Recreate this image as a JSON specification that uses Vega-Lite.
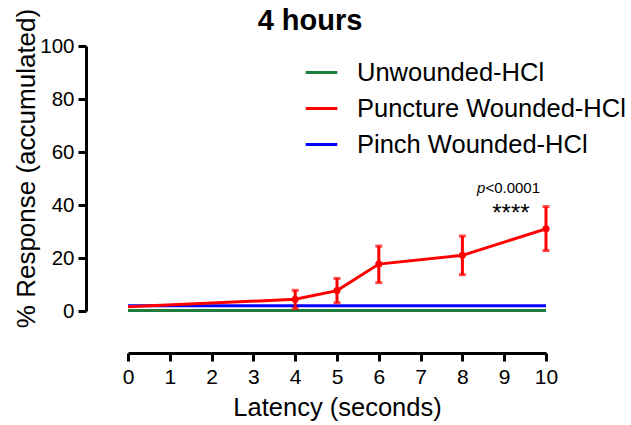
{
  "$schema": "https://vega.github.io/schema/vega-lite/v6.json",
  "autosize": {"type": "none"},
  "width": 418,
  "height": 265,
  "padding": {"left": 128, "top": 46, "right": 85, "bottom": 114},
  "background": "white",
  "title": {"text": "4 hours", "fontSize": 29, "fontWeight": "bold", "font": "Liberation Sans", "color": "black", "anchor": "middle", "frame": "group", "dx": -27, "dy": 51, "offset": 0, "baseline": "alphabetic"},
  "config": {
    "view": {"stroke": null},
    "font": "Liberation Sans",
    "axis": {"grid": false, "domainColor": "black", "domainWidth": 3, "tickColor": "black", "tickWidth": 3, "labelColor": "black", "titleColor": "black", "labelFont": "Liberation Sans", "titleFont": "Liberation Sans", "titleFontWeight": "normal"}
  },
  "datasets": {
    "lines": [
      {"group": "Unwounded-HCl", "latency": 0, "response": 0.2},
      {"group": "Unwounded-HCl", "latency": 10, "response": 0.2},
      {"group": "Pinch Wounded-HCl", "latency": 0, "response": 2},
      {"group": "Pinch Wounded-HCl", "latency": 10, "response": 2},
      {"group": "Puncture Wounded-HCl", "latency": 0, "response": 1.6},
      {"group": "Puncture Wounded-HCl", "latency": 4, "response": 4.4},
      {"group": "Puncture Wounded-HCl", "latency": 5, "response": 7.7},
      {"group": "Puncture Wounded-HCl", "latency": 6, "response": 17.7},
      {"group": "Puncture Wounded-HCl", "latency": 8, "response": 21.0},
      {"group": "Puncture Wounded-HCl", "latency": 10, "response": 31.0}
    ],
    "errs": [
      {"group": "Puncture Wounded-HCl", "latency": 4, "response": 4.4, "lo": 0.9, "hi": 7.8},
      {"group": "Puncture Wounded-HCl", "latency": 5, "response": 7.7, "lo": 3.1, "hi": 12.3},
      {"group": "Puncture Wounded-HCl", "latency": 6, "response": 17.7, "lo": 10.7, "hi": 24.5},
      {"group": "Puncture Wounded-HCl", "latency": 8, "response": 21.0, "lo": 13.7, "hi": 28.3},
      {"group": "Puncture Wounded-HCl", "latency": 10, "response": 31.0, "lo": 22.8, "hi": 39.4}
    ],
    "notes": [
      {"latency": 9.16, "response": 36.6, "label": "****"}
    ],
    "pnote": [
      {"latency": 8.55, "response": 46.4, "label": "p", "rest": "<0.0001"}
    ]
  },
  "layer": [
    {
      "data": {"name": "lines"},
      "mark": {"type": "line", "strokeWidth": 3, "clip": false},
      "encoding": {
        "x": {"field": "latency", "type": "quantitative", "scale": {"domain": [0, 10], "nice": false, "zero": false},
          "axis": {"values": [0,1,2,3,4,5,6,7,8,9,10], "offset": 42, "tickSize": 8, "labelFontSize": 21, "labelPadding": 5, "title": "Latency (seconds)", "titleFontSize": 25.5, "titlePadding": 8, "labelFlush": false}},
        "y": {"field": "response", "type": "quantitative", "scale": {"domain": [0, 100], "nice": false},
          "axis": {"values": [0,20,40,60,80,100], "offset": 42, "tickSize": 8, "labelFontSize": 20.5, "labelPadding": 4, "title": "% Response (accumulated)", "titleFontSize": 26, "titlePadding": 0, "titleY": 122, "labelFlush": false}},
        "color": {"field": "group", "type": "nominal",
          "scale": {"domain": ["Unwounded-HCl", "Puncture Wounded-HCl", "Pinch Wounded-HCl"], "range": ["#1e7d3c", "#ff0000", "#0000ff"]},
          "legend": {"title": null, "orient": "none", "legendX": 176, "legendY": 9, "symbolType": "stroke", "symbolStrokeWidth": 3, "symbolSize": 1000, "labelFontSize": 25.5, "labelColor": "black", "labelFont": "Liberation Sans", "rowPadding": 5, "labelOffset": 18, "labelLimit": 400}},
        "order": {"field": "group"}
      }
    },
    {
      "data": {"name": "errs"},
      "mark": {"type": "rule", "strokeWidth": 3, "color": "#ff0000"},
      "encoding": {
        "x": {"field": "latency", "type": "quantitative"},
        "y": {"field": "lo", "type": "quantitative"},
        "y2": {"field": "hi"}
      }
    },
    {
      "data": {"name": "errs"},
      "mark": {"type": "tick", "thickness": 3, "size": 7, "color": "#ff0000", "orient": "horizontal"},
      "encoding": {
        "x": {"field": "latency", "type": "quantitative"},
        "y": {"field": "lo", "type": "quantitative"}
      }
    },
    {
      "data": {"name": "errs"},
      "mark": {"type": "tick", "thickness": 3, "size": 7, "color": "#ff0000", "orient": "horizontal"},
      "encoding": {
        "x": {"field": "latency", "type": "quantitative"},
        "y": {"field": "hi", "type": "quantitative"}
      }
    },
    {
      "data": {"name": "errs"},
      "mark": {"type": "point", "filled": true, "size": 50, "color": "#ff0000", "opacity": 1},
      "encoding": {
        "x": {"field": "latency", "type": "quantitative"},
        "y": {"field": "response", "type": "quantitative"}
      }
    },
    {
      "data": {"name": "notes"},
      "mark": {"type": "text", "fontSize": 24, "color": "black", "align": "center", "baseline": "middle"},
      "encoding": {
        "x": {"field": "latency", "type": "quantitative"},
        "y": {"field": "response", "type": "quantitative"},
        "text": {"field": "label"}
      }
    },
    {
      "data": {"name": "pnote"},
      "mark": {"type": "text", "fontSize": 15, "fontStyle": "italic", "color": "black", "align": "right", "baseline": "middle"},
      "encoding": {
        "x": {"field": "latency", "type": "quantitative"},
        "y": {"field": "response", "type": "quantitative"},
        "text": {"field": "label"}
      }
    },
    {
      "data": {"name": "pnote"},
      "mark": {"type": "text", "fontSize": 15, "color": "black", "align": "left", "baseline": "middle"},
      "encoding": {
        "x": {"field": "latency", "type": "quantitative"},
        "y": {"field": "response", "type": "quantitative"},
        "text": {"field": "rest"}
      }
    }
  ]
}
